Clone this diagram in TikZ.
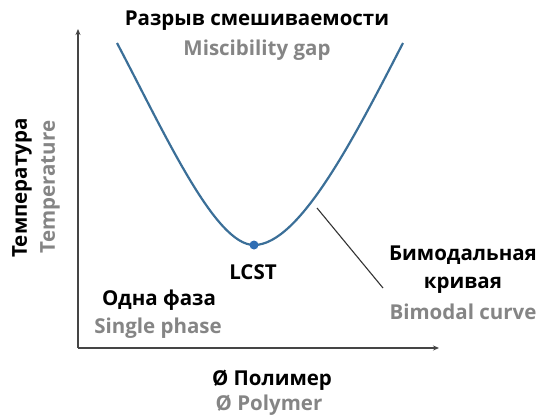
\documentclass[tikz,border=0pt]{standalone}
\usepackage{fontspec}
\setmainfont{Open Sans}
\usetikzlibrary{arrows.meta}
\definecolor{curveblue}{HTML}{3B6F98}
\definecolor{dotblue}{HTML}{2F6DB3}
\definecolor{txtgray}{HTML}{858585}
\definecolor{axisgray}{HTML}{454545}
\tikzset{
  ru/.style={font=\fontsize{20.5}{22}\selectfont\bfseries, text=black, inner sep=0pt},
  en/.style={font=\fontsize{20.5}{22}\selectfont\bfseries, text=txtgray, inner sep=0pt},
  axis/.style={draw=axisgray, line width=1.5pt, -{Stealth[length=6pt,width=5pt]}},
  bicurve/.style={draw=curveblue, line width=2.2pt},
  leader/.style={draw=black!80, line width=1.1pt}
}
\begin{document}
\begin{tikzpicture}[x=1pt,y=-1pt]
\useasboundingbox (0,0) rectangle (539,416);
\coordinate (O) at (78,348);
\coordinate (ytop) at (78,29);
\coordinate (xend) at (439,348);
\draw[axis] (O) -- (ytop);
\draw[axis] (O) -- (xend);
\coordinate (cL) at (117,43);
\coordinate (cM) at (254,245);
\coordinate (cR) at (403,43);
\draw[bicurve] (cL) .. controls (165,134) and (215,245) .. (cM)
               .. controls (300,245) and (356,134) .. (cR);
\fill[dotblue] (cM) circle (4.5pt);
\coordinate (lA) at (317,208);
\coordinate (lB) at (383,288);
\draw[leader] (lA) -- (lB);
\node[ru] (gapru) at (257,21) {Разрыв смешиваемости};
\node[en] (gapen) at (257,50) {Miscibility gap};
\node[ru, rotate=90] (tru) at (22,188) {Температура};
\node[en, rotate=90] (ten) at (50,187) {Temperature};
\node[ru] (lcst) at (253,272) {LCST};
\node[ru] (oneru) at (159,300) {Одна фаза};
\node[en] (oneen) at (158,328) {Single phase};
\node[ru] (bi1) at (463,255) {Бимодальная};
\node[ru] (bi2) at (463,285) {кривая};
\node[en] (bien) at (463,312) {Bimodal curve};
\node[ru] (polru) at (272,380) {Ø Полимер};
\node[en] (polen) at (269,405) {Ø Polymer};
\end{tikzpicture}
\end{document}
